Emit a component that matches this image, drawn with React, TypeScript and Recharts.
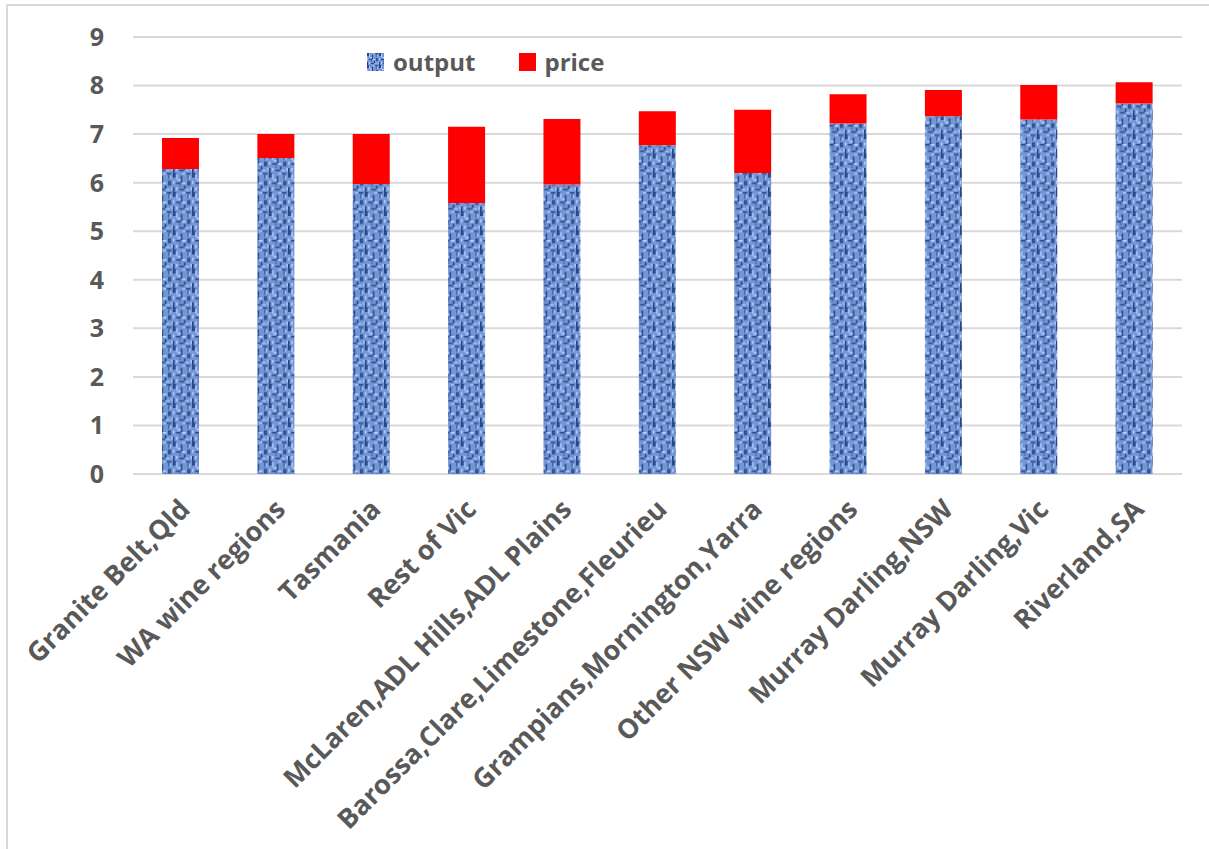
import React from "react";
import {
  BarChart,
  Bar,
  XAxis,
  YAxis,
  CartesianGrid,
  Legend,
} from "recharts";

// wine regions, ordered by total height
const regions = [
  "Granite Belt,Qld",
  "WA wine regions",
  "Tasmania",
  "Rest of Vic",
  "McLaren,ADL Hills,ADL Plains",
  "Barossa,Clare,Limestone,Fleurieu",
  "Grampians,Mornington,Yarra",
  "Other NSW wine regions",
  "Murray Darling,NSW",
  "Murray Darling,Vic",
  "Riverland,SA",
];
const output = [6.28, 6.51, 5.97, 5.58, 5.96, 6.77, 6.2, 7.22, 7.37, 7.3, 7.63];
const price = [0.64, 0.49, 1.03, 1.57, 1.35, 0.7, 1.3, 0.6, 0.54, 0.71, 0.44];
const yTicks = [0, 1, 2, 3, 4, 5, 6, 7, 8, 9];

const data = regions.map((name, i) => ({
  name,
  output: output[i],
  price: price[i],
}));

const FONT = "'Open Sans', 'Noto Sans', sans-serif";
const TEXT = "#595959";
const GRID = "#d9d9d9";
const RED = "#ff0000";

// woven blue texture used for the output series
function Denim({ id, scale = 1.6 }: { id: string; scale?: number }) {
  return (
    <pattern
      id={id}
      width={12}
      height={12}
      patternUnits="userSpaceOnUse"
      patternTransform={`scale(${scale})`}
    >
      <rect width={12} height={12} fill="#7396d6" />
      <rect x={0} y={0} width={2} height={3} fill="#29498c" />
      <rect x={5} y={2} width={1} height={4} fill="#264485" />
      <rect x={8} y={0} width={3} height={1} fill="#2f4f92" />
      <rect x={2} y={6} width={3} height={1} fill="#2a4a8b" />
      <rect x={9} y={5} width={2} height={3} fill="#33538f" />
      <rect x={0} y={9} width={1} height={3} fill="#264485" />
      <rect x={4} y={10} width={3} height={1} fill="#2c4c8d" />
      <rect x={7} y={8} width={1} height={2} fill="#1f3d7c" />
      <rect x={2} y={1} width={1} height={3} fill="#b3ccf2" />
      <rect x={6} y={0} width={2} height={1} fill="#a8c3ee" />
      <rect x={3} y={4} width={2} height={1} fill="#bcd3f5" />
      <rect x={10} y={2} width={1} height={2} fill="#a9c4ef" />
      <rect x={0} y={5} width={1} height={2} fill="#b0caf1" />
      <rect x={6} y={6} width={2} height={1} fill="#c0d6f6" />
      <rect x={8} y={10} width={2} height={1} fill="#a7c2ed" />
      <rect x={2} y={9} width={1} height={2} fill="#b6cff3" />
      <rect x={11} y={9} width={1} height={2} fill="#aac5ef" />
      <rect x={4} y={7} width={1} height={2} fill="#4f72b4" />
      <rect x={9} y={1} width={1} height={3} fill="#4a6daf" />
    </pattern>
  );
}

function RegionTick(props: any) {
  const { x, y, payload } = props;
  return (
    <g transform={`translate(${x + 11},${y + 35}) rotate(-45)`}>
      <text
        x={0}
        y={0}
        textAnchor="end"
        fill={TEXT}
        fontFamily={FONT}
        fontWeight={700}
        fontSize={27}
      >
        {payload.value}
      </text>
    </g>
  );
}

function LegendBox() {
  const label = {
    fontFamily: FONT,
    fontWeight: 700,
    fontSize: 24,
    color: TEXT,
    lineHeight: "24px",
  };
  return (
    <div style={{ display: "flex", alignItems: "center" }}>
      <svg width={17} height={18} style={{ marginRight: 9 }}>
        <defs>
          <Denim id="denim-legend" scale={1} />
        </defs>
        <rect width={17} height={18} fill="url(#denim-legend)" />
      </svg>
      <span style={{ ...label, marginRight: 44 }}>output</span>
      <svg width={17} height={18} style={{ marginRight: 8 }}>
        <rect width={17} height={18} fill={RED} />
      </svg>
      <span style={label}>price</span>
    </div>
  );
}

export default function App() {
  return (
    <div
      style={{
        position: "absolute",
        left: 0,
        top: 0,
        width: 1209,
        height: 849,
        overflow: "hidden",
        background: "#fff",
      }}
    >
      <div
        style={{
          position: "absolute",
          left: 6,
          top: 4,
          width: 1300,
          height: 1000,
          borderLeft: `2px solid ${GRID}`,
          borderTop: `2px solid ${GRID}`,
        }}
      />
      <div style={{ position: "absolute", left: 0, top: 0 }}>
        <BarChart
          width={1209}
          height={849}
          data={data}
          margin={{ top: 37, right: 27, bottom: 75, left: 73 }}
          barSize={37}
        >
          <defs>
            <Denim id="denim" />
          </defs>
          <CartesianGrid vertical={false} stroke={GRID} strokeWidth={2} />
          <XAxis
            dataKey="name"
            interval={0}
            height={300}
            axisLine={false}
            tickLine={false}
            tickSize={0}
            tick={<RegionTick />}
          />
          <YAxis
            width={60}
            domain={[0, 9]}
            ticks={yTicks}
            axisLine={false}
            tickLine={false}
            tickSize={0}
            tickMargin={29}
            tick={{
              fill: TEXT,
              fontFamily: FONT,
              fontWeight: 700,
              fontSize: 25,
            }}
          />
          <Legend
            layout="horizontal"
            verticalAlign="middle"
            align="center"
            wrapperStyle={{ top: 50, left: 367, width: "auto" }}
            content={() => <LegendBox />}
          />
          <Bar
            dataKey="output"
            stackId="a"
            fill="url(#denim)"
            isAnimationActive={false}
          />
          <Bar
            dataKey="price"
            stackId="a"
            fill={RED}
            isAnimationActive={false}
          />
        </BarChart>
      </div>
    </div>
  );
}
